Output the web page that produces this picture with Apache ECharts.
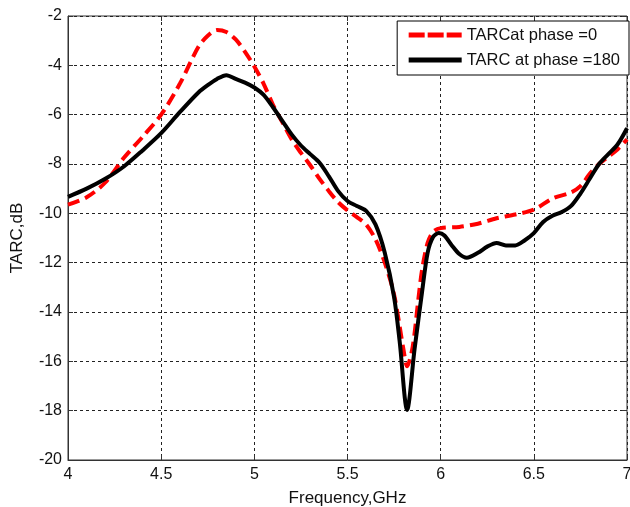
<!DOCTYPE html>
<html>
<head>
<meta charset="utf-8">
<script src="https://cdn.jsdelivr.net/npm/echarts@6/dist/echarts.min.js"></script>
<style>html,body{margin:0;padding:0;background:#fff}#c{width:630px;height:507px}</style>
</head>
<body>
<div id="c"></div>
<script>
const xTicks = [4, 4.5, 5, 5.5, 6, 6.5, 7];
const yTicks = [-2, -4, -6, -8, -10, -12, -14, -16, -18, -20];
const seriesNames = ['TARCat phase =0', 'TARC at phase =180'];

const phase0X = [4.0,4.1,4.2,4.3,4.4,4.5,4.6,4.7,4.75,4.8,4.85,4.9,4.95,5.0,5.05,5.1,5.15,5.2,5.25,5.3,5.35,5.4,5.45,5.5,5.55,5.6,5.65,5.7,5.75,5.8,5.82,5.85,5.88,5.9,5.93,5.96,6.0,6.1,6.2,6.3,6.4,6.5,6.6,6.7,6.75,6.8,6.85,6.9,6.95,7.0];
const phase0Y = [-9.65,-9.35,-8.75,-7.75,-6.9,-6.0,-4.75,-3.25,-2.8,-2.57,-2.65,-2.95,-3.45,-4.05,-4.75,-5.6,-6.3,-7.0,-7.55,-8.05,-8.6,-9.1,-9.55,-9.88,-10.15,-10.45,-11.05,-12.0,-13.3,-15.5,-16.2,-15.4,-13.5,-12.3,-11.2,-10.75,-10.6,-10.55,-10.42,-10.2,-10.05,-9.85,-9.4,-9.15,-8.9,-8.4,-8.0,-7.7,-7.4,-7.0];

const phase180X = [4.0,4.1,4.2,4.3,4.4,4.5,4.6,4.7,4.75,4.8,4.85,4.9,4.95,5.0,5.05,5.1,5.15,5.2,5.25,5.3,5.35,5.4,5.45,5.5,5.55,5.6,5.65,5.7,5.75,5.78,5.82,5.86,5.9,5.93,5.96,5.99,6.02,6.06,6.1,6.14,6.2,6.25,6.3,6.35,6.4,6.45,6.5,6.55,6.6,6.65,6.7,6.75,6.8,6.85,6.9,6.95,7.0];
const phase180Y = [-9.33,-9.0,-8.6,-8.1,-7.45,-6.75,-5.9,-5.1,-4.8,-4.55,-4.4,-4.55,-4.7,-4.9,-5.2,-5.7,-6.25,-6.8,-7.25,-7.6,-7.95,-8.5,-9.1,-9.5,-9.7,-9.9,-10.45,-11.6,-13.4,-15.2,-17.97,-15.5,-13.2,-11.6,-10.95,-10.8,-10.9,-11.3,-11.65,-11.8,-11.6,-11.35,-11.2,-11.3,-11.3,-11.1,-10.8,-10.35,-10.1,-9.95,-9.7,-9.2,-8.6,-8.0,-7.6,-7.2,-6.55];

const zip = (xs, ys) => xs.map((x, i) => [x, ys[i]]);
const font = 'Liberation Sans, Arial, sans-serif';
const gridLine = {show: true, lineStyle: {color: '#222', type: [3, 3], width: 1}};

const chart = echarts.init(document.getElementById('c'), null, {renderer: 'canvas'});
chart.setOption({
  animation: false,
  backgroundColor: '#fff',
  grid: {left: 68, top: 16, right: 3, bottom: 47, show: true, borderColor: '#333', borderWidth: 1,
    containLabel: false, outerBoundsMode: 'none'},
  legend: {
    orient: 'vertical', right: 1, top: 21,
    backgroundColor: '#fff', borderColor: '#000', borderWidth: 1,
    padding: [5, 9, 6, 9], itemGap: 7, itemWidth: 53, itemHeight: 18,
    itemStyle: {opacity: 0},
    lineStyle: {width: 5},
    textStyle: {fontFamily: font, fontSize: 16.5, color: '#111', lineHeight: 18},
    data: [
      {name: seriesNames[0], lineStyle: {type: [16, 3], width: 5}},
      {name: seriesNames[1], lineStyle: {width: 5}}
    ]
  },
  xAxis: [{
    type: 'value', min: 4, max: 7, interval: 0.5,
    name: 'Frequency,GHz', nameLocation: 'middle', nameGap: 30,
    nameTextStyle: {fontFamily: font, fontSize: 17, color: '#111'},
    axisLine: {show: true, lineStyle: {color: '#333', width: 1}},
    axisTick: {show: true, inside: true, length: 5, lineStyle: {color: '#333'}},
    axisLabel: {fontFamily: font, fontSize: 16, color: '#111', margin: 7,
      formatter: v => xTicks.includes(v) ? String(v) : ''},
    splitLine: gridLine
  }, {
    type: 'value', min: 4, max: 7, interval: 0.5, position: 'top',
    axisLine: {show: false}, axisLabel: {show: false}, splitLine: {show: false},
    axisTick: {show: true, inside: true, length: 5, lineStyle: {color: '#333'}}
  }],
  yAxis: [{
    type: 'value', min: -20, max: -2, interval: 2,
    name: 'TARC,dB', nameLocation: 'middle', nameGap: 42,
    nameTextStyle: {fontFamily: font, fontSize: 17, color: '#111'},
    axisLine: {show: true, lineStyle: {color: '#333', width: 1}},
    axisTick: {show: true, inside: true, length: 5, lineStyle: {color: '#333'}},
    axisLabel: {fontFamily: font, fontSize: 16, color: '#111', margin: 6,
      formatter: v => yTicks.includes(v) ? String(v) : ''},
    splitLine: gridLine
  }, {
    type: 'value', min: -20, max: -2, interval: 2, position: 'right',
    axisLine: {show: false}, axisLabel: {show: false}, splitLine: {show: false},
    axisTick: {show: true, inside: true, length: 5, lineStyle: {color: '#333'}}
  }],
  series: [{
    name: seriesNames[0], type: 'line', data: zip(phase0X, phase0Y),
    showSymbol: false, symbol: 'none', smooth: 0.3,
    lineStyle: {color: '#ff0000', width: 4, type: [12, 6]},
    itemStyle: {color: '#ff0000'}, z: 3
  }, {
    name: seriesNames[1], type: 'line', data: zip(phase180X, phase180Y),
    showSymbol: false, symbol: 'none', smooth: 0.3,
    lineStyle: {color: '#000000', width: 4, type: 'solid'},
    itemStyle: {color: '#000000'}, z: 4
  }]
});
</script>
</body>
</html>
